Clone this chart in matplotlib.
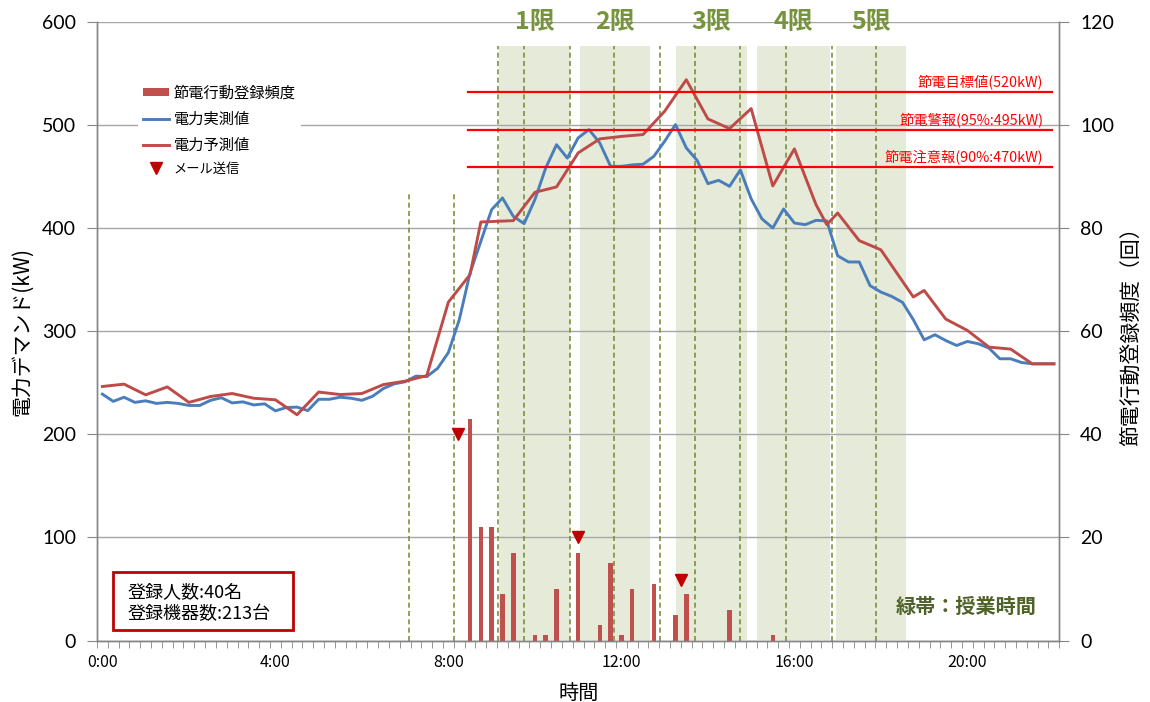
import matplotlib
matplotlib.use('Agg')
import matplotlib.pyplot as plt
import matplotlib.transforms as mtrans
from matplotlib.patches import Rectangle, Patch
from matplotlib.lines import Line2D

plt.rcParams['font.family'] = ['Noto Sans CJK JP', 'DejaVu Sans']

# ---------------- data ----------------
n_slots = 89  # 15-minute slots, 0:00 .. 22:00
slot_labels = [f"{(k * 15) // 60}:{(k * 15) % 60:02d}" for k in range(n_slots)]

measured_kw = [
    239, 232, 236, 231, 232.5, 230, 231, 230, 228, 228,
    233, 235.5, 230.5, 231.5, 228.5, 229.6, 222.8, 226, 226.4, 223,
    234, 234, 236, 235, 233, 237, 244.5, 249, 251, 256.5,
    256, 264, 279.4, 311, 356.5, 387.2, 418, 429.3, 411.5, 404.4,
    427.7, 458.4, 481, 468, 487.6, 495.6, 482.7, 460, 460, 461.4,
    462, 469.7, 484.3, 500.5, 477.9, 465.8, 443.2, 446.4, 440.6, 456.5,
    428.5, 409, 400.2, 418.6, 405, 403.4, 407.6, 407, 373.3, 367.2,
    367.2, 344.2, 338, 333.8, 328, 311.2, 291.7, 296.6, 291, 286.2,
    290.1, 287.9, 283.6, 273.3, 273.3, 269.7, 268.4, 268.4, 268.4,
]

forecast_times = [
    "0:00", "0:30", "1:00", "1:30", "2:00", "2:30", "3:00", "3:30", "4:00", "4:30",
    "5:00", "5:30", "6:00", "6:30", "7:00", "7:30", "8:00", "8:30", "8:45", "9:30",
    "10:00", "10:30", "11:00", "11:30", "12:00", "12:30", "13:00", "13:30", "14:00", "14:30",
    "15:00", "15:30", "16:00", "16:30", "16:45", "17:00", "17:30", "18:00", "18:45", "19:00",
    "19:30", "20:00", "20:30", "21:00", "21:30", "22:00",
]
forecast_kw = [
    246.4, 248.7, 238.3, 246, 231, 236.7, 239.6, 235, 233.5, 219,
    241, 238.6, 239.6, 248.3, 251.6, 257, 328.3, 354.9, 406, 407.3,
    434.8, 440, 473, 486.6, 489, 490.8, 513.4, 544, 506, 496.6,
    516, 441, 476.9, 422.8, 403.4, 414.7, 387.9, 379, 333.2, 339.6,
    311.8, 300.8, 284.6, 282.7, 268.4, 268.4,
]

reg_times = ["8:30", "8:45", "9:00", "9:15", "9:30", "10:00", "10:15", "10:30", "11:00",
             "11:30", "11:45", "12:00", "12:15", "12:45", "13:15", "13:30", "14:30", "15:30"]
reg_counts = [43, 22, 22, 9, 17, 1, 1, 10, 17, 3, 15, 1, 10, 11, 5, 9, 6, 1]

mail_hours = [8.225, 11.0, 13.375]
mail_kw = [200, 100, 59]

period_labels = ["1限", "2限", "3限", "4限", "5限"]
period_start_h = [9.18, 11.05, 13.265, 15.145, 16.965]
period_end_h = [10.81, 12.665, 14.90, 16.825, 18.58]

bell_hours_short = [7.09, 8.125]
bell_hours = [9.155, 9.75, 10.80, 11.825, 12.895, 13.70, 14.75, 15.80, 16.86, 17.88]

threshold_labels = ["節電目標値(520kW)", "節電警報(95%:495kW)", "節電注意報(90%:470kW)"]
threshold_kw = [532, 495, 459]

info_lines = ["登録人数:40名", "登録機器数:213台"]

# ---------------- style ----------------
C_BLUE = '#4A7EBB'
C_RED = '#BE4B48'
C_BAR = '#C0504D'
C_MAIL = '#C00000'
C_GREEN = '#77933C'
C_GREEN_DARK = '#4F6228'
C_BAND = '#e5ebd8'
C_GRID = '#a6a6a6'
C_AXIS = '#868686'

W, H = 1150, 702
fig = plt.figure(figsize=(W / 100, H / 100), dpi=100)
ax_l, ax_r, ax_t, ax_b = 97, 1059.3, 22, 640.5
ax = fig.add_axes([ax_l / W, 1 - ax_b / H, (ax_r - ax_l) / W, (ax_b - ax_t) / H])
ax2 = ax.twinx()


def hpos(h):
    return h * 4 + 0.5


def tpos(t):
    return slot_labels.index(t) + 0.5


band_top = 577
short_top = 436

# bands
for s, e in zip(period_start_h, period_end_h):
    ax.fill_between([hpos(s), hpos(e)], 0, band_top, color=C_BAND, lw=0, zorder=0.2)

# bell lines
for h in bell_hours:
    ax.plot([hpos(h)] * 2, [0, band_top], color=C_GREEN, lw=1.2, dashes=(3, 2), zorder=1)
for h in bell_hours_short:
    ax.plot([hpos(h)] * 2, [0, short_top], color=C_GREEN, lw=1.2, dashes=(3, 2), zorder=1)

# data lines
ax.plot([k + 0.5 for k in range(n_slots)], measured_kw, color=C_BLUE, lw=2.1, zorder=3,
        solid_joinstyle='round')
ax.plot([tpos(t) for t in forecast_times], forecast_kw, color=C_RED, lw=2.1, zorder=3.5,
        solid_joinstyle='round')

# thresholds
thr_x0, thr_x1, thr_lab_x = hpos(8.455), hpos(21.96), hpos(21.75)
for lab, v in zip(threshold_labels, threshold_kw):
    ax.plot([thr_x0, thr_x1], [v, v], color='#FF0000', lw=1.6, zorder=5)
    ax.annotate(lab, (thr_lab_x, v), xytext=(0, 2), textcoords='offset points',
                ha='right', va='bottom', color='#FF0000', fontsize=10.3, zorder=6)

# mail markers
ax.plot([hpos(h) for h in mail_hours], mail_kw, ls='none', marker='v', color=C_MAIL,
        markersize=8.5, zorder=6)

# bars on right axis
ax2.bar([tpos(t) for t in reg_times], reg_counts, width=0.42, color=C_BAR, zorder=2)

# period labels
trans = mtrans.blended_transform_factory(ax.transData, ax.transAxes)
for lab, s, e in zip(period_labels, period_start_h, period_end_h):
    ax.text((hpos(s) + hpos(e)) / 2, 1.0, lab, transform=trans, ha='center', va='center',
            fontsize=18, fontweight='bold', color=C_GREEN)

# axes
ax.set_xlim(0, n_slots)
ax.set_ylim(0, 600)
ax2.set_ylim(0, 120)
ax.set_yticks(range(0, 601, 100))
ax2.set_yticks(range(0, 121, 20))
major = list(range(0, n_slots, 16))
ax.set_xticks([k + 0.5 for k in major])
ax.set_xticklabels([slot_labels[k] for k in major])
ax.set_xticks(range(0, n_slots + 1), minor=True)
ax.tick_params(axis='x', which='major', length=0, pad=10, labelsize=11.5)
ax.tick_params(axis='x', which='minor', length=5, color=C_AXIS, direction='out')
ax.tick_params(axis='y', length=7, color=C_AXIS, pad=8, labelsize=14, labelfontfamily='Lato')
ax2.tick_params(axis='y', length=7, color=C_AXIS, pad=8, labelsize=14, labelfontfamily='Lato')
ax.set_axisbelow(True)
ax.grid(axis='y', color=C_GRID, lw=1.0, zorder=0.5)
for a in (ax, ax2):
    a.spines['top'].set_visible(False)
    for sp in ('left', 'right', 'bottom'):
        a.spines[sp].set_color(C_AXIS)
        a.spines[sp].set_linewidth(1.0)

ax.set_ylabel('電力デマンド(kW)', fontsize=15)
ax.yaxis.set_label_coords((33 - ax_l) / (ax_r - ax_l), 0.5)
ax2.set_ylabel('節電行動登録頻度（回）', fontsize=15)
ax2.yaxis.set_label_coords((1121 - ax_l) / (ax_r - ax_l), 0.5)
ax.set_xlabel('時間', fontsize=14.5, labelpad=8)

# legend
handles = [Patch(facecolor=C_BAR, edgecolor='none'),
           Line2D([], [], color=C_BLUE, lw=2.1),
           Line2D([], [], color=C_RED, lw=2.1),
           Line2D([], [], ls='none', marker='v', color=C_MAIL, markersize=8)]
labels = ['節電行動登録頻度', '電力実測値', '電力予測値', 'メール送信']
leg = ax2.legend(handles, labels, loc='upper left', bbox_to_anchor=(138 / W, 1 - 79 / H),
                 bbox_transform=fig.transFigure, frameon=True, fancybox=False,
                 framealpha=1, fontsize=11, handlelength=1.7, handleheight=0.5,
                 handletextpad=0.3, labelspacing=0.6, borderpad=0.35, borderaxespad=0)
leg.get_frame().set_edgecolor('white')
leg.get_frame().set_linewidth(0)
leg.get_texts()[3].set_fontsize(9.5)

# info box
fig.patches.append(Rectangle((112.7 / W, 1 - 630 / H), 180.6 / W, 57.7 / H,
                             transform=fig.transFigure, fill=False,
                             edgecolor=C_MAIL, lw=2))
fig.text(127.3 / W, 1 - 591.7 / H, info_lines[0], fontsize=13, va='center', ha='left')
fig.text(127.3 / W, 1 - 614.3 / H, info_lines[1], fontsize=13, va='center', ha='left')

fig.text(1037 / W, 1 - 606.7 / H, '緑帯：授業時間', fontsize=14.5, fontweight='bold',
         color=C_GREEN_DARK, ha='right', va='center')

fig.savefig('out.png', dpi=100)
